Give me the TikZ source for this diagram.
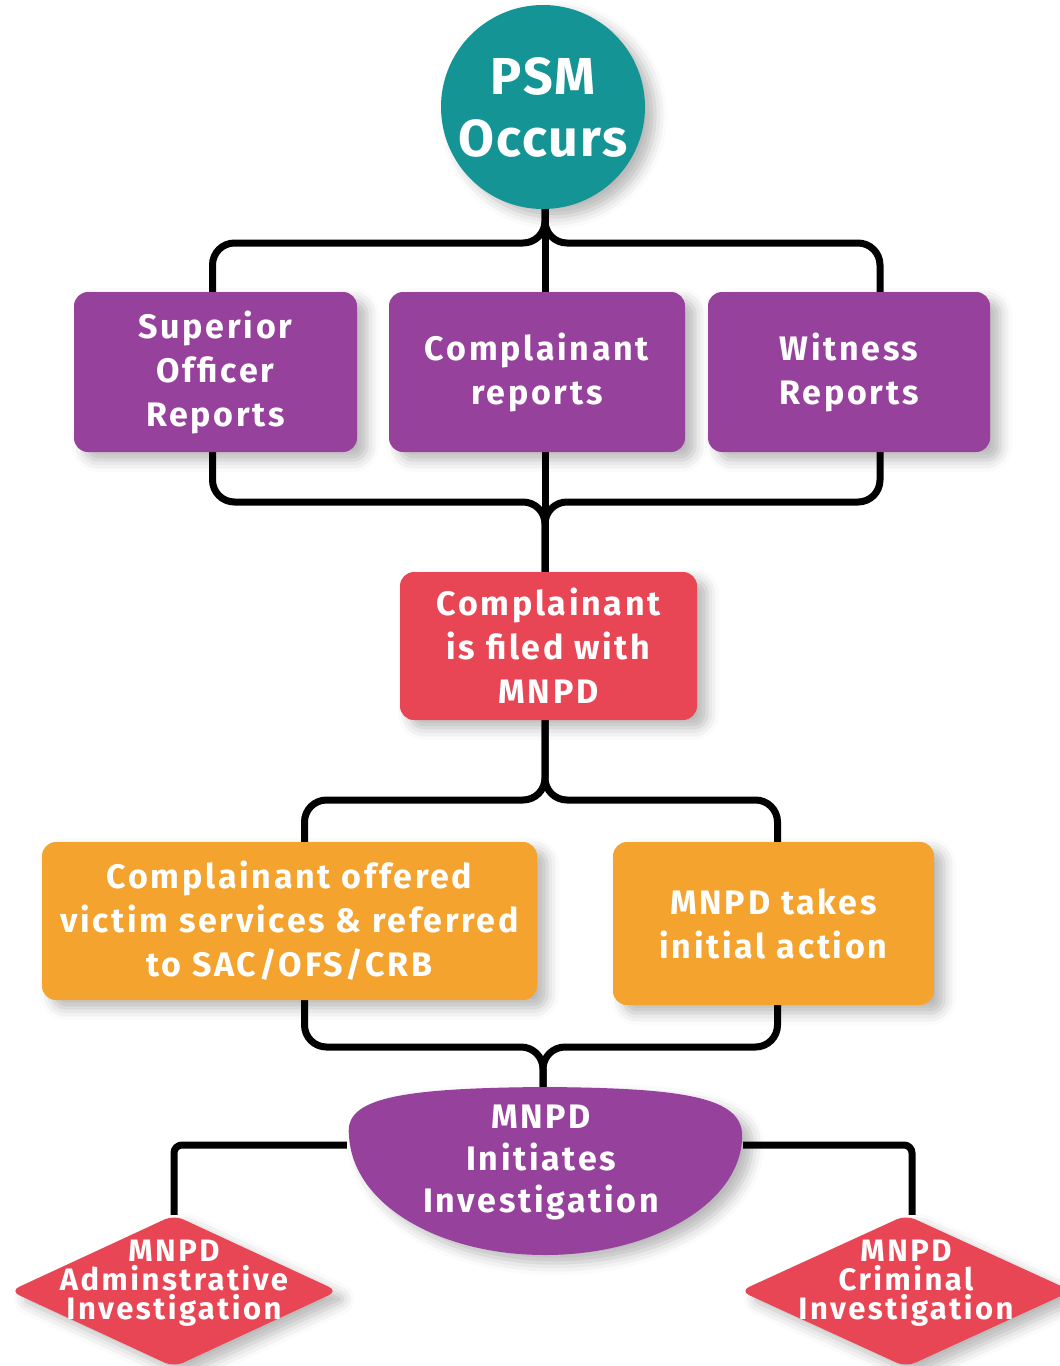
\documentclass[tikz,border=0pt]{standalone}
\usepackage{fontspec}
\setmainfont{Fira Sans}[LetterSpace=8]
\newfontfamily\psmfont{Fira Sans}[LetterSpace=4]
\usetikzlibrary{shapes.geometric,shadows.blur,calc}
\definecolor{tealc}{HTML}{149494}
\definecolor{purp}{HTML}{96419B}
\definecolor{redc}{HTML}{E84654}
\definecolor{orng}{HTML}{F3A32E}
\pgfdeclarelayer{bg}
\pgfsetlayers{bg,main}
\begin{document}
\begin{tikzpicture}[x=1pt,y=-1pt,
  shad/.style={blur shadow={shadow xshift=10pt, shadow yshift=-8pt, shadow blur radius=12pt, shadow opacity=28}},
  box/.style={rounded corners=14pt, text=white, font=\bfseries\fontsize{34}{44}\selectfont, align=center, inner sep=0pt, shad},
  conn/.style={line width=7pt, rounded corners=22pt, black},
  lbl/.style={text=white, align=center, inner sep=0pt}]
\useasboundingbox (0,0) rectangle (1060,1366);

\node[circle, fill=tealc, minimum size=204pt, inner sep=0pt, lbl, font=\psmfont\bfseries\fontsize{52}{62}\selectfont, shad] (psm) at (543,107) {PSM\\Occurs};

\node[box, fill=purp, minimum width=283pt, minimum height=160pt] (sup) at (215.5,372) {Superior\\Officer\\Reports};
\node[box, fill=purp, minimum width=296pt, minimum height=160pt] (cmp) at (537,372) {Complainant\\reports};
\node[box, fill=purp, minimum width=282pt, minimum height=160pt] (wit) at (849,372) {Witness\\Reports};

\node[box, fill=redc, minimum width=297pt, minimum height=148pt] (fil) at (548.5,646) {Complainant\\is filed with\\MNPD};

\node[box, fill=orng, minimum width=495pt, minimum height=158pt] (off) at (289.5,921) {Complainant offered\\victim services \& referred\\to SAC/OFS/CRB};
\node[box, fill=orng, minimum width=321pt, minimum height=163pt] (act) at (773.5,923.5) {MNPD takes\\initial action};

% bowl shaped node
\node[minimum width=396pt, minimum height=168pt, inner sep=0pt] (inv) at (545,1171) {};
\fill[purp, shad] (349,1135) .. controls (344,1098) and (400,1088) .. (545,1087)
  .. controls (690,1088) and (746,1098) .. (742,1140)
  .. controls (738,1205) and (650,1255) .. (545,1255)
  .. controls (440,1255) and (352,1205) .. (349,1135) -- cycle;
\node[lbl, font=\bfseries\fontsize{34}{42}\selectfont] (invt) at (541,1162) {MNPD\\Initiates\\Investigation};

\node[diamond, fill=redc, minimum width=328pt, minimum height=152pt, inner sep=0pt, rounded corners=10pt, shad] (adm) at (174,1291) {};
\node[lbl, font=\bfseries\fontsize{31}{29}\selectfont] (admt) at (174,1283) {MNPD\\Adminstrative\\Investigation};
\node[diamond, fill=redc, minimum width=332pt, minimum height=152pt, inner sep=0pt, rounded corners=10pt, shad] (crim) at (906,1291) {};
\node[lbl, font=\bfseries\fontsize{31}{29}\selectfont] (crimt) at (906,1283) {MNPD\\Criminal\\Investigation};

\coordinate (j1) at (545,243);
\coordinate (j2) at (545,502);
\coordinate (j3) at (545,800);
\coordinate (j4) at (543,1047);

\begin{pgfonlayer}{bg}
\draw[conn] (psm.south -| j1) -- (j1) -| ([xshift=-3pt]sup.north);
\draw[conn] (psm.south -| j1) -- (j1) -| ([xshift=31pt]wit.north);
\draw[conn] (psm.south -| j1) -- (j1 |- cmp.north);

\draw[conn] ([xshift=-3pt]sup.south) |- (j2) -- (j2 |- fil.north);
\draw[conn] ([xshift=31pt]wit.south) |- (j2) -- (j2 |- fil.north);
\draw[conn] (cmp.south -| j2) -- (j2 |- fil.north);

\draw[conn] (fil.south -| j3) -- (j3) -| ([xshift=15pt]off.north);
\draw[conn] (fil.south -| j3) -- (j3) -| ([xshift=4pt]act.north);

\draw[conn] ([xshift=15pt]off.south) |- (j4) -- (j4 |- inv.north);
\draw[conn] ([xshift=4pt]act.south) |- (j4) -- (j4 |- inv.north);

\draw[conn, rounded corners=8pt] ([yshift=26pt]inv.west) -| (adm.north);
\draw[conn, rounded corners=8pt] ([yshift=26pt]inv.east) -| ([xshift=6pt]crim.north);
\end{pgfonlayer}
\end{tikzpicture}
\end{document}
